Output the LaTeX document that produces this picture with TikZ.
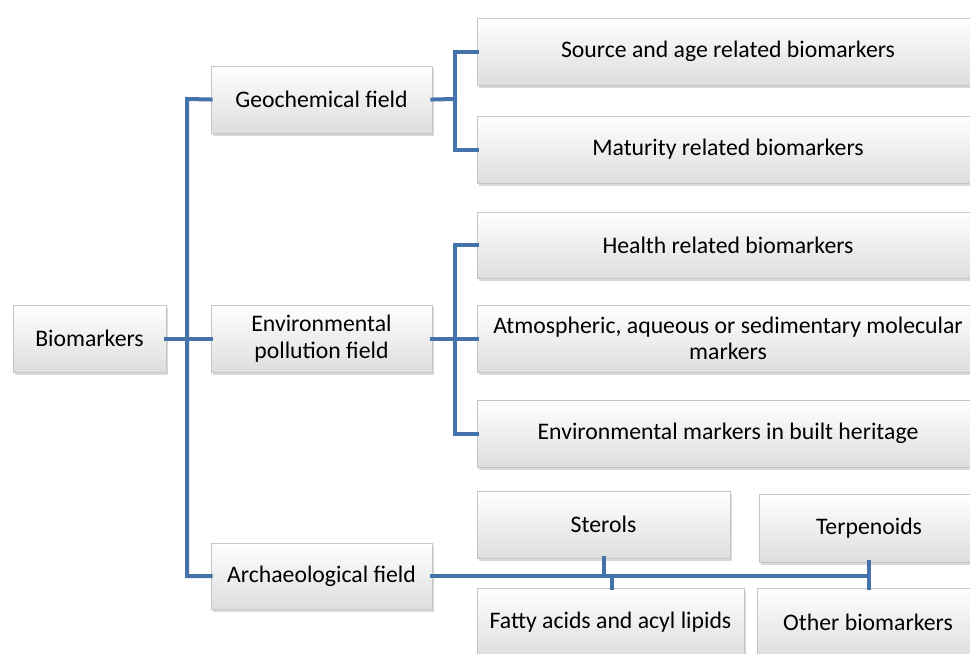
\documentclass[tikz,border=0pt]{standalone}
\usepackage{fontspec}
\setmainfont{Carlito}
\usetikzlibrary{shadows}
\definecolor{conn}{RGB}{68,114,170}
\begin{document}
\begin{tikzpicture}[x=0.75pt,y=-0.75pt,
  box/.style={rectangle,inner sep=0pt,align=center,draw=gray!45,line width=0.5pt,
    top color=white,bottom color=gray!26,
    drop shadow={opacity=0.3,shadow xshift=1.5pt,shadow yshift=-2pt},
    font=\fontsize{17.8}{20}\selectfont},
  link/.style={draw=conn,line width=3pt,line cap=rect,line join=miter}]
\useasboundingbox (0,0) rectangle (970,653);
\clip (0,0) rectangle (970,653);
% boxes
\node[box,minimum width=114.75pt,minimum height=50.25pt] (bio) at (89.5,338.5) {Biomarkers};
\node[box,minimum width=165.75pt,minimum height=50.25pt] (geo) at (321.5,99.5) {Geochemical field};
\node[box,minimum width=165.75pt,minimum height=50.25pt] (env) at (321.5,338.5) {Environmental\\pollution field};
\node[box,minimum width=165.75pt,minimum height=49.5pt] (arch) at (321.5,576) {Archaeological field};
\node[box,minimum width=376.5pt,minimum height=50.25pt] (src) at (728,51.5) {Source and age related biomarkers};
\node[box,minimum width=376.5pt,minimum height=50.25pt] (mat) at (728,149.5) {Maturity related biomarkers};
\node[box,minimum width=376.5pt,minimum height=49.5pt] (hea) at (728,245) {Health related biomarkers};
\node[box,minimum width=376.5pt,minimum height=50.25pt] (atm) at (728,338.5) {Atmospheric, aqueous or sedimentary molecular\\markers};
\node[box,minimum width=376.5pt,minimum height=50.25pt] (emb) at (728,433.5) {Environmental markers in built heritage};
\node[box,minimum width=189.75pt,minimum height=50.25pt] (ste) at (603.5,524.5) {Sterols};
\node[box,minimum width=165pt,minimum height=51pt] (ter) at (869,528) {Terpenoids};
\node[box,minimum width=200.25pt,minimum height=51pt] (fat) at (610.5,622) {Fatty acids and acyl lipids};
\node[box,minimum width=166.5pt,minimum height=51pt] (oth) at (868,622) {Other biomarkers};
% junction coordinates
\coordinate (tr1) at (187,99);
\coordinate (tr2) at (187,576);
\coordinate (gj) at (455,99);
\coordinate (ej) at (455,338);
\coordinate (aj) at (869,576);
% connectors
\draw[link] (bio.east) -- (env.west);
\draw[link] (geo.west) -- (tr1) -- (tr2) -- (arch.west);
\draw[link] (geo.east) -- (gj);
\draw[link] (src.west) -| (gj) |- (mat.west);
\draw[link] (env.east) -- (atm.west);
\draw[link] (hea.west) -| (ej) |- (emb.west);
\draw[link] (arch.east) -- (aj);
\draw[link] (ste.south) -- (ste.south |- aj);
\draw[link] (fat.north -| 612,0) -- (aj -| 612,0);
\draw[link] (ter.south -| aj) -- (oth.north -| aj);
\end{tikzpicture}
\end{document}
